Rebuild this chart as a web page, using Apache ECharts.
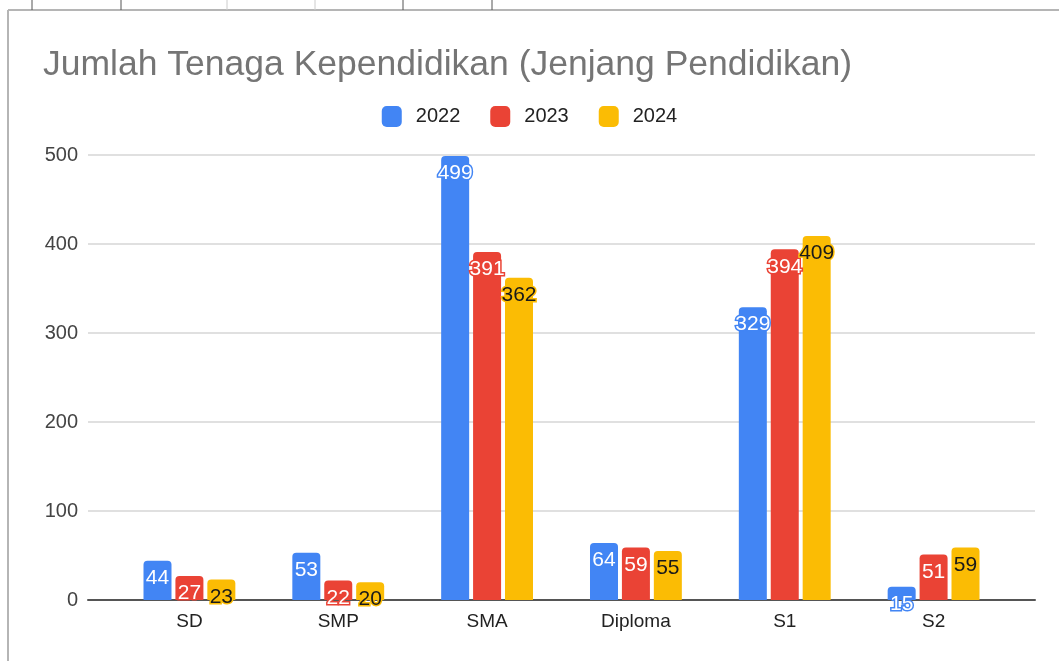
<!DOCTYPE html>
<html>
<head>
<meta charset="utf-8">
<script src="https://cdn.jsdelivr.net/npm/echarts@6/dist/echarts.min.js"></script>
<style>
html,body{margin:0;padding:0;background:#fff;}
#main{width:1059px;height:661px;}
</style>
</head>
<body>
<div id="main"></div>
<script>
// data
var categories = ['SD', 'SMP', 'SMA', 'Diploma', 'S1', 'S2'];
var data2022 = [44, 53, 499, 64, 329, 15];
var data2023 = [27, 22, 391, 59, 394, 51];
var data2024 = [23, 20, 362, 55, 409, 59];
var yTicks = [0, 100, 200, 300, 400, 500];

var FONT = "'Liberation Sans', Arial, sans-serif";
var myChart = echarts.init(document.getElementById('main'));

function makeSeries(name, data, color, textColor){
	return {
		name: name,
		type: 'bar',
		xAxisIndex: 1,
		yAxisIndex: 1,
		barWidth: 28,
		barGap: '14%',
		itemStyle: {color: color, borderRadius: [4, 4, 0, 0]},
		label: {
			show: true,
			position: 'insideTop',
			distance: 7,
			fontFamily: FONT,
			fontSize: 21,
			color: textColor,
			textBorderColor: color,
			textBorderWidth: 3
		},
		data: data
	};
}

var option = {
	animation: false,
	backgroundColor: '#fff',
	textStyle: {fontFamily: FONT},
	title: {
		text: 'Jumlah Tenaga Kependidikan (Jenjang Pendidikan)',
		left: 38,
		top: 42,
		textStyle: {color: '#757575', fontSize: 35.5, fontWeight: 'normal', fontFamily: FONT}
	},
	legend: {
		top: 101,
		left: 'center',
		itemWidth: 20,
		itemHeight: 21,
		itemGap: 30,
		icon: 'roundRect',
		textStyle: {color: '#222', fontSize: 20, fontFamily: FONT, padding: [0, 0, 0, 9]},
		data: ['2022', '2023', '2024']
	},
	grid: [
		{left: 88, right: 24, top: 155, bottom: 61},
		{left: 115, right: 51, top: 155, bottom: 61}
	],
	xAxis: [
		{
			type: 'category',
			gridIndex: 0,
			data: [''],
			axisLine: {show: true, lineStyle: {color: '#555', width: 2}},
			axisTick: {show: false},
			axisLabel: {show: false}
		},
		{
			type: 'category',
			gridIndex: 1,
			data: categories,
			axisLine: {show: false},
			axisTick: {show: false},
			axisLabel: {color: '#222', fontSize: 19, margin: 12, fontFamily: FONT}
		}
	],
	yAxis: [
		{
			type: 'value',
			gridIndex: 0,
			min: yTicks[0],
			max: yTicks[yTicks.length - 1],
			interval: 100,
			axisLine: {show: false},
			axisTick: {show: false},
			axisLabel: {color: '#444', fontSize: 20, margin: 10, fontFamily: FONT},
			splitLine: {lineStyle: {color: '#d6d6d6', width: 1.5}}
		},
		{
			type: 'value',
			gridIndex: 1,
			min: yTicks[0],
			max: yTicks[yTicks.length - 1],
			interval: 100,
			show: false,
			splitLine: {show: false}
		}
	],
	graphic: [
		{type: 'line', shape: {x1: 8, y1: 10, x2: 1059, y2: 10}, style: {stroke: '#b5b5b5', lineWidth: 2}},
		{type: 'line', shape: {x1: 8, y1: 10, x2: 8, y2: 661}, style: {stroke: '#b5b5b5', lineWidth: 2}},
		{type: 'line', shape: {x1: 32, y1: 0, x2: 32, y2: 10}, style: {stroke: '#555', lineWidth: 1}},
		{type: 'line', shape: {x1: 121, y1: 0, x2: 121, y2: 10}, style: {stroke: '#555', lineWidth: 1}},
		{type: 'line', shape: {x1: 227, y1: 0, x2: 227, y2: 10}, style: {stroke: '#ccc', lineWidth: 1}},
		{type: 'line', shape: {x1: 315, y1: 0, x2: 315, y2: 10}, style: {stroke: '#ccc', lineWidth: 1}},
		{type: 'line', shape: {x1: 403, y1: 0, x2: 403, y2: 10}, style: {stroke: '#555', lineWidth: 1}},
		{type: 'line', shape: {x1: 492, y1: 0, x2: 492, y2: 10}, style: {stroke: '#555', lineWidth: 1}}
	],
	series: [
		makeSeries('2022', data2022, '#4285f4', '#fff'),
		makeSeries('2023', data2023, '#ea4335', '#fff'),
		makeSeries('2024', data2024, '#fbbc04', '#1a1a1a')
	]
};

myChart.setOption(option);
</script>
</body>
</html>
